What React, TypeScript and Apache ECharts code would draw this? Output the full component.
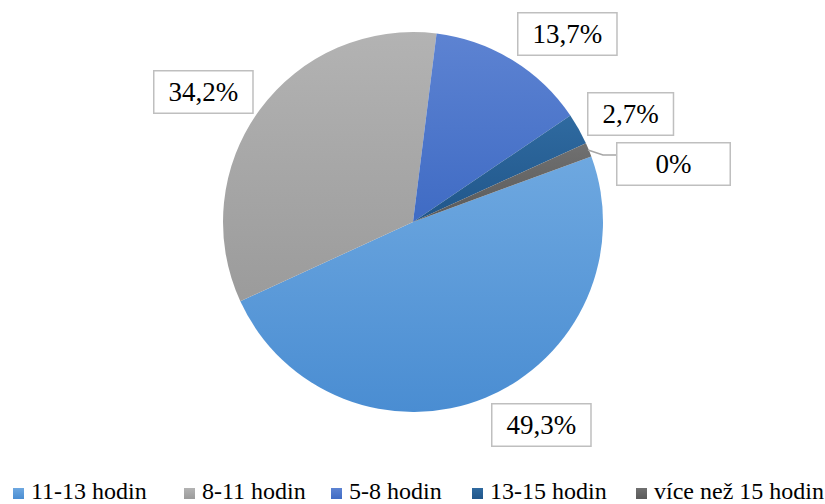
import React, { useEffect, useRef } from "react";
import * as echarts from "echarts";

const categories = ["11-13 hodin", "8-11 hodin", "5-8 hodin", "13-15 hodin", "více než 15 hodin"];
const values = [49.3, 34.2, 13.7, 2.7, 1.2];
const labelTexts = ["49,3%", "34,2%", "13,7%", "2,7%", "0%"];

const grad = (a: string, b: string) =>
  new echarts.graphic.LinearGradient(0, 0, 0, 1, [
    { offset: 0, color: a },
    { offset: 1, color: b },
  ]);

const colors = [
  grad("#6ea8e0", "#4a8dd2"),
  grad("#b3b3b3", "#9b9b9b"),
  grad("#5d83d2", "#3f6bc4"),
  grad("#2f6aa0", "#20568a"),
  grad("#707070", "#5a5a5a"),
];

// layout only: label box top-left corners, horizontal paddings, legend item x positions
const labelBox = [
  [491, 403],
  [153, 70],
  [517, 12],
  [587, 92],
  [616, 142],
];
const labelPadH = [14, 14, 14, 14, 38];
const legendX = [13, 184, 331, 472, 636];

const FONT = "Liberation Serif";

export default function App() {
  const ref = useRef<HTMLDivElement>(null);
  useEffect(() => {
    const chart = echarts.init(ref.current!, null, { renderer: "svg" });

    const labelEls = labelTexts.map((t, i) => ({
      type: "text",
      left: labelBox[i][0],
      top: labelBox[i][1],
      z: 10,
      style: {
        text: t,
        fontFamily: FONT,
        fontSize: 27,
        fill: "#000",
        backgroundColor: "#fff",
        borderColor: "#bfbfbf",
        borderWidth: 1.5,
        padding: [7, labelPadH[i], 7, labelPadH[i]],
      },
    }));

    const legendEls: any[] = [];
    categories.forEach((c, i) => {
      legendEls.push({
        type: "rect",
        shape: { x: legendX[i], y: 488, width: 11, height: 11 },
        style: { fill: colors[i] },
      });
      legendEls.push({
        type: "text",
        left: legendX[i] + 18,
        top: 479,
        style: {
          text: c,
          fontFamily: FONT,
          fontSize: 24,
          fill: "#000",
        },
      });
    });

    chart.setOption({
      animation: false,
      series: [
        {
          type: "pie",
          center: [413, 222],
          radius: 190,
          startAngle: 20.2,
          clockwise: true,
          avoidLabelOverlap: false,
          label: { show: false },
          labelLine: { show: false },
          emphasis: { disabled: true },
          data: categories.map((c, i) => ({
            name: c,
            value: values[i],
            itemStyle: { color: colors[i] },
          })),
        },
      ],
      graphic: [
        {
          type: "polyline",
          z: 9,
          shape: { points: [[588, 150], [603, 155], [616, 155]] },
          style: { stroke: "#a6a6a6", lineWidth: 1.5, fill: null },
        },
        ...labelEls,
        ...legendEls,
      ],
    });
    return () => chart.dispose();
  }, []);
  return (
    <div
      ref={ref}
      style={{ position: "fixed", left: 0, top: 0, width: 825, height: 504, background: "#fff" }}
    />
  );
}
